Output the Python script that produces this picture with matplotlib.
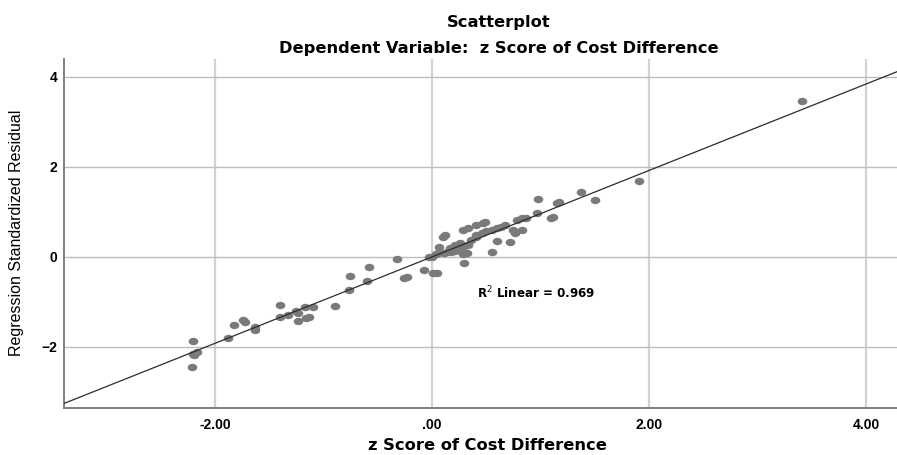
import numpy as np
import matplotlib
matplotlib.use("Agg")
import matplotlib.pyplot as plt
from matplotlib.path import Path
from matplotlib.transforms import Affine2D

plt.rcParams['font.family'] = ['Liberation Sans', 'DejaVu Sans']

# z score of cost difference vs regression standardized residual
z_cost = [-2.20, -2.20, -2.16, -2.19, -2.21, -1.88, -1.82, -1.74, -1.72, -1.63,
          -1.63, -1.40, -1.40, -1.33, -1.25, -1.23, -1.23, -1.17, -1.16, -1.13,
          -1.10, -0.89, -0.76, -0.75, -0.60, -0.58, -0.32, -0.26, -0.23, -0.07,
          0.01, 0.05, -0.03, 0.00, 0.04, 0.07, 0.10, 0.12, 0.06, 0.11,
          0.14, 0.18, 0.21, 0.24, 0.27, 0.30, 0.33, 0.17, 0.21, 0.26,
          0.29, 0.32, 0.30, 0.29, 0.33, 0.36, 0.41, 0.41, 0.47, 0.49,
          0.41, 0.46, 0.50, 0.55, 0.60, 0.64, 0.67, 0.55, 0.60, 0.72,
          0.75, 0.77, 0.83, 0.78, 0.83, 0.87, 0.97, 0.98, 1.10, 1.12,
          1.15, 1.17, 1.37, 1.50, 1.91, 3.41]
std_resid = [-1.87, -2.15, -2.11, -2.18, -2.46, -1.81, -1.52, -1.41, -1.44, -1.56,
             -1.63, -1.07, -1.35, -1.30, -1.20, -1.25, -1.43, -1.11, -1.37, -1.33,
             -1.11, -1.10, -0.74, -0.43, -0.53, -0.24, -0.06, -0.48, -0.44, -0.30,
             -0.37, -0.37, 0.00, -0.01, 0.07, 0.22, 0.44, 0.48, 0.08, 0.08,
             0.11, 0.11, 0.13, 0.17, 0.20, 0.24, 0.26, 0.19, 0.26, 0.30,
             0.07, 0.09, -0.13, 0.59, 0.64, 0.37, 0.48, 0.70, 0.74, 0.76,
             0.44, 0.52, 0.56, 0.59, 0.63, 0.67, 0.70, 0.11, 0.35, 0.32,
             0.59, 0.52, 0.59, 0.82, 0.86, 0.85, 0.96, 1.28, 0.86, 0.89,
             1.19, 1.22, 1.43, 1.26, 1.69, 3.46]

x_ticks = [-2, 0, 2, 4]
x_labels = ['-2.00', '.00', '2.00', '4.00']
y_ticks = [-2, 0, 2, 4]
r2_text = 'R$^2$ Linear = 0.969'

x = np.array(z_cost)
y = np.array(std_resid)

fig = plt.figure(figsize=(8.97, 4.55), dpi=100)
ax = fig.add_axes([64 / 897, 47 / 455, 833 / 897, 349 / 455])
ax.set_xlim(-3.39, 4.286)
ax.set_ylim(-3.36, 4.39)

# grid lines
for t in x_ticks:
    ax.axvline(t, color='#d2d2d2', lw=1.6, zorder=0)
for t in y_ticks:
    ax.axhline(t, color='#bdbdbd', lw=1.0, zorder=0)

# slightly flattened dots
ell = Path.unit_circle().transformed(Affine2D().scale(1.3, 1.0))
ax.scatter(x, y, s=48, marker=ell, color='#7a7a7a', linewidths=0, zorder=2)

# linear fit
slope, icept = np.polyfit(x, y, 1)
xx = np.array(ax.get_xlim())
ax.plot(xx, slope * xx + icept, color='#2b2b2b', lw=0.9, zorder=3)

wide = ['DejaVu Sans']
ax.text(0.42, -0.81, r2_text, fontsize=8.6, fontweight='bold', family=wide,
        ha='left', va='center')

ax.set_xticks(x_ticks)
ax.set_xticklabels(x_labels)
ax.set_yticks(y_ticks)
ax.tick_params(length=0, labelsize=10)
ax.tick_params(axis='x', pad=7)
ax.tick_params(axis='y', pad=5)
for lab in ax.get_xticklabels() + ax.get_yticklabels():
    lab.set_fontweight('bold')

for s in ['top', 'right']:
    ax.spines[s].set_visible(False)
for s in ['left', 'bottom']:
    ax.spines[s].set_color('#7f7f7f')
    ax.spines[s].set_linewidth(1.4)

fig.text(499 / 897, 1 - 22 / 455, 'Scatterplot', fontsize=11.7, fontweight='bold',
         family=wide, ha='center', va='center')
fig.text(499 / 897, 1 - 49 / 455, 'Dependent Variable:  z Score of Cost Difference',
         fontsize=11.7, fontweight='bold', family=wide, ha='center', va='center')
fig.text(487 / 897, 1 - 445 / 455, 'z Score of Cost Difference', fontsize=11.7,
         fontweight='bold', family=wide, ha='center', va='center')
fig.text(17 / 897, 1 - 233 / 455, 'Regression Standardized Residual', fontsize=11.5,
         rotation=90, ha='center', va='center')

fig.savefig('out.png', dpi=100)
